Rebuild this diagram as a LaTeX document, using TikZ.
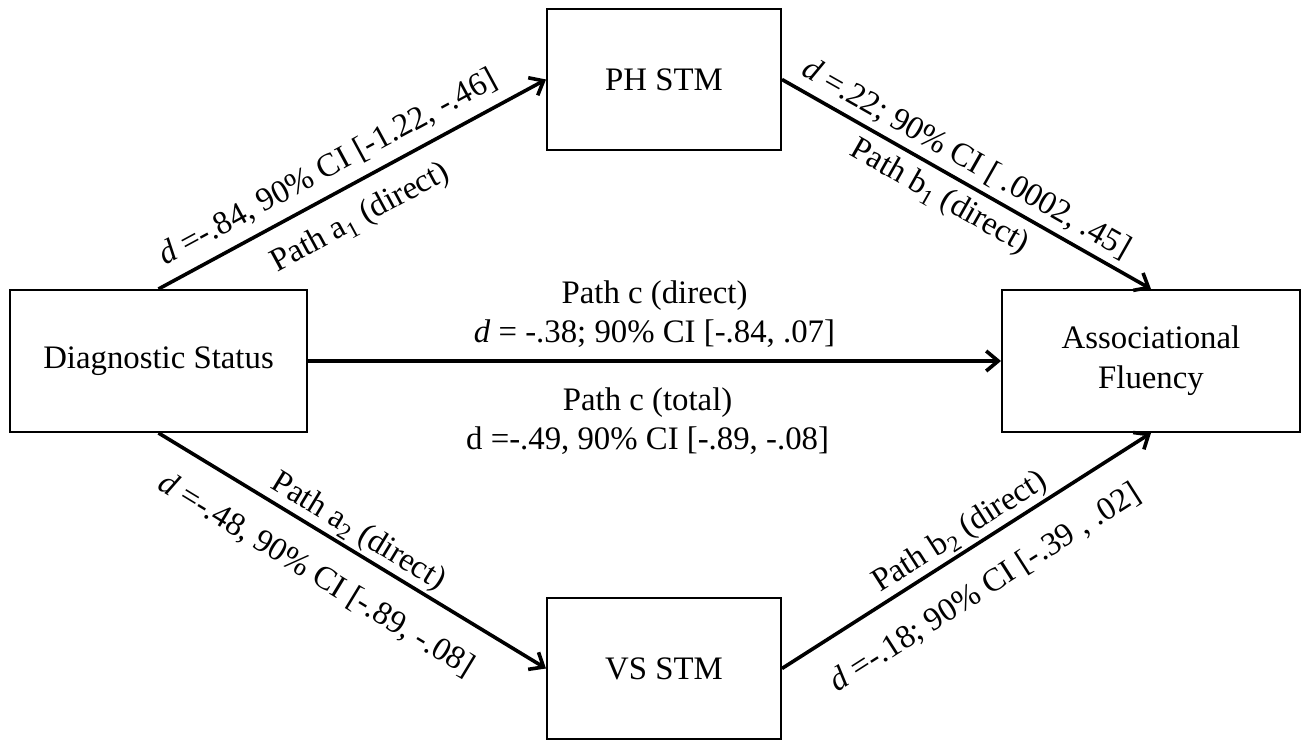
\documentclass[tikz,border=0pt]{standalone}
\usepackage{fontspec}
\setmainfont{Liberation Serif}
\usetikzlibrary{arrows.meta}

\begin{document}
\begin{tikzpicture}[x=1pt,y=1pt,
  box/.style={draw, line width=2pt, inner sep=0pt, align=center,
    font=\fontsize{32.8}{40}\selectfont},
  link/.style={line width=3.6pt,
    -{Straight Barb[length=12pt,width=20pt,line width=3.6pt]}},
  lab/.style={inner sep=0pt, font=\fontsize{32.8}{39}\selectfont}
]
\useasboundingbox (0,0) rectangle (1302,741);

% variables
\node[box, minimum width=297pt, minimum height=142pt] (diag) at (158.5,380) {Diagnostic Status};
\node[box, minimum width=234pt, minimum height=141pt] (ph)   at (664,661.5) {PH STM};
\node[box, minimum width=234pt, minimum height=141pt] (vs)   at (664,72.5)  {VS STM};
\node[box, minimum width=298pt, minimum height=142pt] (af)   at (1151,380) {Associational\\Fluency};

% mediated paths
\draw[link] (diag.north) --
  node[lab, pos=.47, sloped, above=10pt] (a1top) {\textit{d} =-.84, 90\% CI [-1.22, -.46]}
  node[lab, pos=.48, sloped, below=17pt] (a1bot) {Path a\textsubscript{1} (direct)}
  (ph.west);
\draw[link] (ph.east) --
  node[lab, pos=.47, sloped, above=6pt] (b1top) {\textit{d} =.22; 90\% CI [ .0002, .45]}
  node[lab, pos=.46, sloped, below=8pt] (b1bot) {Path b\textsubscript{1} (direct)}
  (af.north);
\draw[link] (diag.south) --
  node[lab, pos=.49, sloped, above=2pt] (a2top) {Path a\textsubscript{2} (direct)}
  node[lab, pos=.46, sloped, below=24pt] (a2bot) {\textit{d} =-.48, 90\% CI [-.89, -.08]}
  (vs.west);
\draw[link] (vs.east) --
  node[lab, pos=.51, sloped, above=2pt] (b2top) {Path b\textsubscript{2} (direct)}
  node[lab, pos=.49, sloped, below=26pt] (b2bot) {\textit{d} =-.18; 90\% CI [-.39 , .02]}
  (af.south);

% direct path
\draw[link] (diag.east) --
  node[lab, pos=.5, above=12pt, align=center] (ctop) {Path c (direct)\\\textit{d} = -.38; 90\% CI [-.84, .07]}
  node[lab, pos=.49, below=25pt, align=center] (cbot) {Path c (total)\\d =-.49, 90\% CI [-.89, -.08]}
  (af.west);
\end{tikzpicture}
\end{document}
